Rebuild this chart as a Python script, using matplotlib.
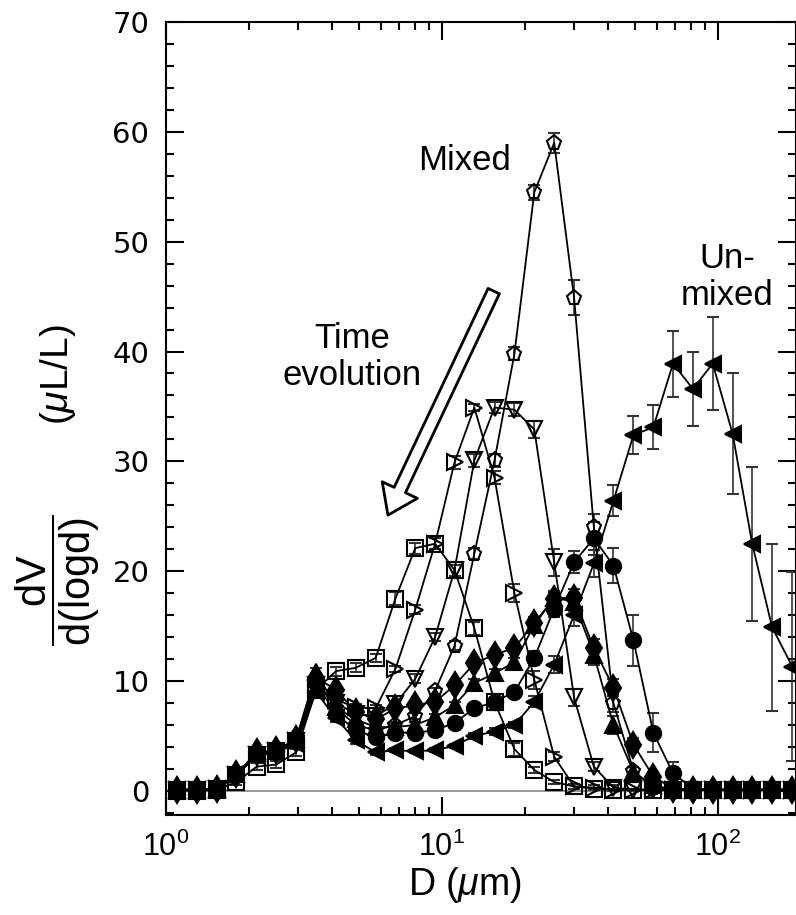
import matplotlib
matplotlib.use("Agg")
import matplotlib.pyplot as plt
from matplotlib.ticker import MultipleLocator, LogLocator, NullFormatter

plt.rcParams["mathtext.fontset"] = "custom"
plt.rcParams["mathtext.rm"] = "Liberation Sans"
plt.rcParams["mathtext.it"] = "Liberation Sans:italic"
plt.rcParams["mathtext.bf"] = "Liberation Sans:bold"
plt.rcParams["font.family"] = ["Liberation Sans", "DejaVu Sans"]

# particle size bins (um)
D = [1.10, 1.30, 1.53, 1.80, 2.13, 2.51, 2.96, 3.50, 4.13, 4.87, 5.75, 6.78,
     8.00, 9.44, 11.1, 13.1, 15.5, 18.3, 21.6, 25.5, 30.1, 35.5, 41.8, 49.4,
     58.3, 68.7, 81.1, 95.7, 113, 133, 157, 186]

# dV/d(logd) (uL/L), ordered along time evolution
unmixed = [0.1, 0.1, 0.2, 1.5, 3.2, 3.5, 4.3, 9.0, 6.6, 4.6, 3.5, 3.7,
           3.6, 3.7, 4.1, 5.0, 5.4, 6.0, 8.1, 11.5, 16.0, 20.7, 26.4, 32.4,
           33.1, 38.9, 36.6, 38.9, 32.5, 22.5, 14.9, 11.3]
unmixed_err = [0.2, 0.2, 0.2, 0.3, 0.3, 0.3, 0.3, 0.4, 0.3, 0.3, 0.2, 0.2,
               0.2, 0.2, 0.2, 0.3, 0.3, 0.3, 0.5, 0.8, 1.0, 1.2, 1.4, 1.7,
               2.0, 3.0, 3.4, 4.2, 5.5, 7.0, 7.6, 8.6]

circles = [0.1, 0.1, 0.2, 1.4, 3.4, 3.6, 4.5, 9.8, 7.0, 5.5, 4.9, 5.3,
           5.3, 5.5, 6.2, 7.5, 8.1, 9.0, 12.1, 16.6, 20.8, 23.0, 20.5, 13.7,
           5.3, 1.6, 0.2, 0.1, 0.1, 0.1, 0.1, 0.1]
circles_err = [0.2, 0.2, 0.2, 0.3, 0.3, 0.3, 0.3, 0.4, 0.3, 0.3, 0.3, 0.3,
               0.3, 0.3, 0.3, 0.3, 0.4, 0.4, 0.6, 0.8, 1.0, 1.5, 1.6, 2.3,
               1.8, 1.0, 0.2, 0.1, 0.1, 0.1, 0.1, 0.1]

diamonds = [0.1, 0.1, 0.2, 1.5, 3.5, 3.7, 4.7, 10.3, 9.2, 7.2, 6.5, 7.5,
            7.8, 8.1, 9.6, 11.6, 12.4, 13.0, 15.3, 17.5, 17.6, 13.0, 9.4, 4.2,
            1.3, 0.2, 0.1, 0.1, 0.1, 0.1, 0.1, 0.1]
diamonds_err = [0.2, 0.2, 0.2, 0.3, 0.3, 0.3, 0.3, 0.4, 0.3, 0.3, 0.3, 0.3,
                0.3, 0.3, 0.3, 0.4, 0.4, 0.4, 0.5, 0.6, 0.8, 0.8, 0.8, 0.6,
                0.4, 0.2, 0.1, 0.1, 0.1, 0.1, 0.1, 0.1]

triangles = [0.1, 0.1, 0.2, 1.5, 3.4, 3.6, 4.7, 10.8, 7.6, 6.5, 5.8, 5.8,
             6.0, 6.7, 7.8, 9.8, 10.7, 11.7, 15.1, 17.6, 17.2, 12.4, 6.0, 1.7,
             0.5, 0.1, 0.1, 0.1, 0.1, 0.1, 0.1, 0.1]
triangles_err = [0.2, 0.2, 0.2, 0.3, 0.3, 0.3, 0.3, 0.4, 0.3, 0.3, 0.3, 0.3,
                 0.3, 0.3, 0.3, 0.4, 0.4, 0.4, 0.5, 0.6, 0.8, 0.9, 0.8, 0.5,
                 0.3, 0.1, 0.1, 0.1, 0.1, 0.1, 0.1, 0.1]

mixed = [0.1, 0.1, 0.2, 1.4, 3.3, 3.6, 4.5, 10.0, 7.5, 6.0, 5.5, 6.0,
         6.8, 9.1, 13.2, 21.6, 30.1, 39.8, 54.5, 59.0, 44.9, 24.0, 8.0, 1.8,
         0.3, 0.1, 0.1, 0.1, 0.1, 0.1, 0.1, 0.1]
mixed_err = [0.2, 0.2, 0.2, 0.3, 0.3, 0.3, 0.3, 0.4, 0.3, 0.3, 0.3, 0.3,
             0.3, 0.3, 0.4, 0.5, 0.6, 0.6, 0.7, 0.9, 1.6, 1.2, 0.8, 0.4,
             0.2, 0.1, 0.1, 0.1, 0.1, 0.1, 0.1, 0.1]

down_tri = [0.1, 0.1, 0.2, 1.4, 3.3, 3.6, 4.5, 9.6, 8.0, 7.0, 6.8, 7.9,
            10.2, 14.0, 20.1, 30.1, 34.9, 34.7, 32.9, 20.8, 8.5, 2.2, 0.3, 0.1,
            0.1, 0.1, 0.1, 0.1, 0.1, 0.1, 0.1, 0.1]
down_tri_err = [0.2, 0.2, 0.2, 0.3, 0.3, 0.3, 0.3, 0.4, 0.3, 0.3, 0.3, 0.3,
                0.4, 0.4, 0.5, 0.6, 0.5, 0.6, 0.8, 1.2, 0.8, 0.4, 0.2, 0.1,
                0.1, 0.1, 0.1, 0.1, 0.1, 0.1, 0.1, 0.1]

right_tri = [0.1, 0.1, 0.2, 1.4, 3.3, 3.6, 4.5, 9.5, 8.3, 7.6, 7.5, 11.1,
             16.5, 22.5, 29.9, 34.9, 28.5, 18.0, 10.1, 3.1, 0.4, 0.3, 0.1, 0.1,
             0.1, 0.1, 0.1, 0.1, 0.1, 0.1, 0.1, 0.1]
right_tri_err = [0.2, 0.2, 0.2, 0.3, 0.3, 0.3, 0.3, 0.4, 0.3, 0.3, 0.3, 0.3,
                 0.4, 0.5, 0.6, 0.3, 0.6, 0.8, 0.8, 0.4, 0.2, 0.2, 0.1, 0.1,
                 0.1, 0.1, 0.1, 0.1, 0.1, 0.1, 0.1, 0.1]

squares = [0.0, 0.0, 0.1, 0.8, 2.2, 2.4, 3.5, 9.2, 10.9, 11.2, 12.1, 17.5,
           22.1, 22.5, 20.1, 14.8, 8.1, 3.8, 1.9, 0.8, 0.4, 0.2, 0.1, 0.1,
           0.1, 0.1, 0.1, 0.1, 0.1, 0.1, 0.1, 0.1]
squares_err = [0.2, 0.2, 0.2, 0.3, 0.3, 0.3, 0.3, 0.4, 0.4, 0.4, 0.4, 0.6,
               0.5, 0.5, 0.5, 0.6, 0.7, 0.6, 0.3, 0.2, 0.2, 0.1, 0.1, 0.1,
               0.1, 0.1, 0.1, 0.1, 0.1, 0.1, 0.1, 0.1]

# (values, errors, marker, filled, size)
series = [
    (unmixed, unmixed_err, "<", True, 12),
    (circles, circles_err, "o", True, 11),
    (diamonds, diamonds_err, "d", True, 13),
    (triangles, triangles_err, "^", True, 11),
    (mixed, mixed_err, "p", False, 11),
    (down_tri, down_tri_err, "v", False, 11),
    (right_tri, right_tri_err, ">", False, 11),
    (squares, squares_err, "s", False, 11),
]

W, H = 796, 915
fig = plt.figure(figsize=(W / 100, H / 100), dpi=100)
ax = fig.add_axes([166 / W, 100 / H, 630 / W, 793 / H])
ax.set_xscale("log")
ax.set_xlim(1, 191.7)
ax.set_ylim(-2.2, 70)

ax.axhline(0, color="0.6", lw=1.5, zorder=0)

for vals, errs, m, filled, ms in series:
    ax.errorbar(D, vals, yerr=errs, fmt="-", marker=m, color="black",
                mfc="black" if filled else "none", mec="black", ms=ms,
                mew=1.5, lw=1.3, ecolor="0.2", elinewidth=1.2,
                capsize=4, capthick=1.2)

# hollow arrow for the time evolution
ax.annotate("", xy=(6.37, 25.1), xytext=(15.4, 45.5),
            arrowprops=dict(arrowstyle="simple,head_length=1.0,head_width=1.4,tail_width=0.45",
                            fc="white", ec="black", lw=2, mutation_scale=20,
                            shrinkA=0, shrinkB=0))

ax.text(12.1, 57.4, "Mixed", fontsize=25, ha="center", va="center")
ax.text(4.72, 39.5, "Time\nevolution", fontsize=25, ha="center", va="center",
        linespacing=1.15)
ax.text(107.8, 46.8, "Un-\nmixed", fontsize=25, ha="center", va="center",
        linespacing=1.15)

# axes styling
for sp in ax.spines.values():
    sp.set_linewidth(1.5)
ax.yaxis.set_major_locator(MultipleLocator(10))
ax.yaxis.set_minor_locator(MultipleLocator(2))
ax.xaxis.set_major_locator(LogLocator(base=10, numticks=10))
ax.xaxis.set_minor_locator(LogLocator(base=10, subs=range(2, 10), numticks=20))
ax.xaxis.set_minor_formatter(NullFormatter())
ax.tick_params(which="both", direction="in", top=True, right=True, width=1.5)
ax.tick_params(which="major", length=13)
ax.tick_params(which="minor", length=6)
ax.tick_params(axis="y", pad=12)
ax.tick_params(axis="x", pad=12)

ax.set_xticks([1, 10, 100])
ax.set_xticklabels([r"$10^0$", r"$10^1$", r"$10^2$"], fontsize=22)
ax.set_yticks(range(0, 80, 10))
ax.set_yticklabels([str(v) for v in range(0, 80, 10)], fontsize=21,
                   family="DejaVu Sans")

fig.text(465 / W, 1 - 885 / H, r"D ($\mu$m)", fontsize=27, ha="center", va="center")
fig.text(58 / W, 1 - 580 / H, r"$\dfrac{\mathrm{dV}}{\mathrm{d(logd)}}$",
         fontsize=30, rotation=90, ha="center", va="center")
fig.text(58 / W, 1 - 375 / H, r"($\mu$L/L)", fontsize=28, rotation=90,
         ha="center", va="center")

fig.savefig("out.png", dpi=100)
